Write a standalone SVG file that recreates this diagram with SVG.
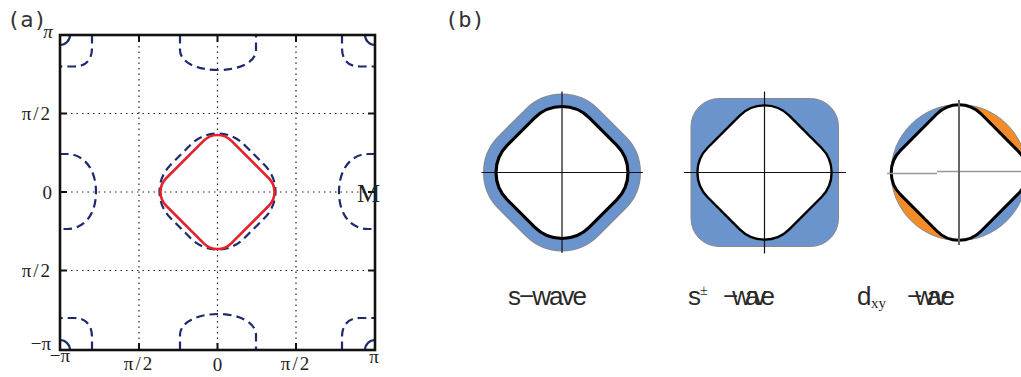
<svg xmlns="http://www.w3.org/2000/svg" width="1021" height="377" viewBox="0 0 1021 377">
<style>
.lbl{font-family:"DejaVu Sans Mono","Liberation Mono",monospace;font-size:22px;fill:#333}
.tk{font-family:"Liberation Serif","DejaVu Serif",serif;font-size:19px;fill:#222}
.grid{stroke:#222;stroke-width:1.2;stroke-dasharray:1.5 4;fill:none}
.pocket{stroke:#1f2a6e;stroke-width:2.2;stroke-dasharray:8.5 5;fill:none}
.corner{stroke:#1f2a6e;stroke-width:2.2;fill:none}
.tick{stroke:#111;stroke-width:2}
.ax{stroke:#111;stroke-width:1.2}
.blue{fill:#6b93cc;stroke:#888;stroke-width:1}
.orange{fill:#f28c28;stroke:#888;stroke-width:1}
.wave{font-family:"Liberation Sans","DejaVu Sans",sans-serif;font-size:26px;fill:#2a2a2a}
.sub{font-family:"Liberation Serif","DejaVu Serif",serif;fill:#2a2a2a}
</style>
<rect width="1021" height="377" fill="#fff"/>

<g id="panel-a">
  <text class="lbl" x="7" y="27">(a)</text>
  <g id="grid">
    <line class="grid" x1="139" y1="35" x2="139" y2="350"/>
    <line class="grid" x1="217.5" y1="35" x2="217.5" y2="350"/>
    <line class="grid" x1="296" y1="35" x2="296" y2="350"/>
    <line class="grid" x1="60" y1="113.5" x2="375" y2="113.5"/>
    <line class="grid" x1="60" y1="192" x2="375" y2="192"/>
    <line class="grid" x1="60" y1="270.5" x2="375" y2="270.5"/>
  </g>
  <g id="pockets">
    <rect class="pocket" x="165.5" y="139.5" width="104" height="104" rx="37.5" transform="rotate(45 217.5 191.5)"/>
    <path class="pocket" d="M180,35 L180,50 C180,62 196,70 218,70 C240,70 256,62 256,50 L256,35"/>
    <path class="pocket" d="M180,350 L180,335 C180,323 196,314 218,314 C240,314 256,323 256,335 L256,350"/>
    <path class="pocket" d="M60,154 L67,154 C83,154 96,168 96,192 C96,216 83,229 67,229 L60,229"/>
    <path class="pocket" d="M375,154 L368,154 C352,154 339,168 339,192 C339,216 352,229 368,229 L375,229"/>
    <path class="pocket" d="M92,35 L92,48 C92,60 86,66.5 74,66.5 L60,66.5"/>
    <path class="pocket" d="M342,35 L342,48 C342,60 348,66.5 360,66.5 L375,66.5"/>
    <path class="pocket" d="M92,350 L92,337 C92,325 86,318 74,318 L60,318"/>
    <path class="pocket" d="M342,350 L342,337 C342,325 348,318 360,318 L375,318"/>
    <path class="corner" d="M60,45 A10,10 0 0 0 70,35"/>
    <path class="corner" d="M375,45 A10,10 0 0 1 365,35"/>
    <path class="corner" d="M60,340 A10,10 0 0 1 70,350"/>
    <path class="corner" d="M375,340 A10,10 0 0 0 365,350"/>
  </g>
  <rect id="fermi-red" x="171.5" y="146" width="92" height="92" rx="19.4" transform="rotate(45 217.5 192)" fill="none" stroke="#e8202a" stroke-width="2.6"/>
  <g id="ticks">
    <line class="tick" x1="139" y1="350" x2="139" y2="343"/>
    <line class="tick" x1="217.5" y1="350" x2="217.5" y2="343"/>
    <line class="tick" x1="296" y1="350" x2="296" y2="343"/>
    <line class="tick" x1="139" y1="35" x2="139" y2="42"/>
    <line class="tick" x1="217.5" y1="35" x2="217.5" y2="42"/>
    <line class="tick" x1="296" y1="35" x2="296" y2="42"/>
    <line class="tick" x1="60" y1="113.5" x2="67" y2="113.5"/>
    <line class="tick" x1="60" y1="192" x2="67" y2="192"/>
    <line class="tick" x1="60" y1="270.5" x2="67" y2="270.5"/>
    <line class="tick" x1="375" y1="113.5" x2="368" y2="113.5"/>
    <line class="tick" x1="375" y1="192" x2="368" y2="192"/>
    <line class="tick" x1="375" y1="270.5" x2="368" y2="270.5"/>
  </g>
  <rect x="60" y="35" width="315" height="315" fill="none" stroke="#111" stroke-width="2.6"/>
  <g id="tick-labels">
    <text class="tk" x="48" y="38" text-anchor="middle" font-size="12" font-style="italic">π</text>
    <text class="tk" x="52" y="120" text-anchor="end" letter-spacing="2">π/2</text>
    <text class="tk" x="52" y="199" text-anchor="end">0</text>
    <text class="tk" x="52" y="277" text-anchor="end" letter-spacing="2">π/2</text>
    <text class="tk" x="51" y="350" text-anchor="end">−π</text>
    <text class="tk" x="60" y="362" text-anchor="middle">−π</text>
    <text class="tk" x="139" y="370" text-anchor="middle" letter-spacing="2">π/2</text>
    <text class="tk" x="217.5" y="371" text-anchor="middle">0</text>
    <text class="tk" x="296" y="370" text-anchor="middle" letter-spacing="2">π/2</text>
    <text class="tk" x="374" y="363" text-anchor="middle" font-size="16">π</text>
  </g>
  <text x="357" y="202" font-family="Liberation Serif,serif" font-size="26" fill="#222">M</text>
</g>

<g id="panel-b">
  <text class="lbl" x="445" y="27">(b)</text>
  <g id="s-wave">
    <rect x="504" y="114.5" width="116" height="116" rx="38.7" transform="rotate(45 562 172.5)" fill="none" stroke="#888" stroke-width="26"/>
    <rect x="504" y="114.5" width="116" height="116" rx="38.7" transform="rotate(45 562 172.5)" fill="#fff" stroke="#6b93cc" stroke-width="24"/>
    <rect x="504" y="114.5" width="116" height="116" rx="38.7" transform="rotate(45 562 172.5)" fill="#fff" stroke="#000" stroke-width="3.2"/>
    <line class="ax" x1="481.5" y1="172.5" x2="643" y2="172.5"/>
    <line class="ax" x1="562" y1="91.5" x2="562" y2="253"/>
    <text class="wave" x="508" y="305" textLength="79" lengthAdjust="spacing">s−wave</text>
  </g>
  <g id="spm-wave">
    <rect class="blue" x="691" y="98.5" width="147.5" height="148" rx="28"/>
    <rect x="706.8" y="114.8" width="115.4" height="115.4" rx="35" transform="rotate(45 764.5 172.5)" fill="#fff" stroke="#000" stroke-width="2.4"/>
    <line class="ax" x1="684" y1="172.5" x2="846" y2="172.5"/>
    <line class="ax" x1="764.5" y1="91.5" x2="764.5" y2="253.5"/>
    <text class="wave" x="688" y="305">s</text>
    <text class="sub" x="700" y="295" font-size="14">±</text>
    <text class="wave" x="723" y="305" textLength="52" lengthAdjust="spacing">−wave</text>
  </g>
  <g id="dxy-wave">
    <path class="orange" d="M959,172.5 L1027,172.5 A68,68 0 0 0 959,104.5 Z"/>
    <path class="blue" d="M959,172.5 L959,104.5 A68,68 0 0 0 891,172.5 Z"/>
    <path class="orange" d="M959,172.5 L891,172.5 A68,68 0 0 0 959,240.5 Z"/>
    <path class="blue" d="M959,172.5 L959,240.5 A68,68 0 0 0 1027,172.5 Z"/>
    <rect x="902" y="115.5" width="114" height="114" rx="31" transform="rotate(45 959 172.5)" fill="#fff" stroke="#000" stroke-width="3"/>
    <line x1="887" y1="173.5" x2="937" y2="173.5" stroke="#999" stroke-width="1.5"/>
    <line x1="937" y1="171.5" x2="1021" y2="171.5" stroke="#999" stroke-width="1.5"/>
    <line x1="959" y1="100" x2="959" y2="245" stroke="#666" stroke-width="2"/>
    <text class="wave" x="857" y="305">d</text>
    <text class="sub" x="871" y="308" font-size="15">xy</text>
    <text class="wave" x="907" y="305" textLength="48" lengthAdjust="spacing">−wave</text>
  </g>
</g>
</svg>
